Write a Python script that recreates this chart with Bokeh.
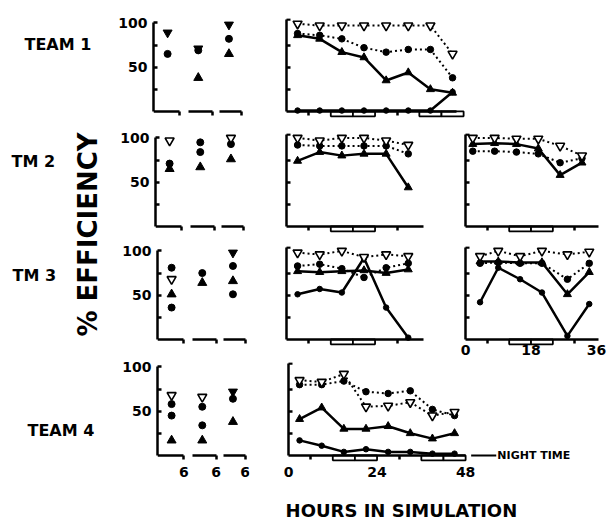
import math
from bokeh.plotting import figure
from bokeh.layouts import row, column
from bokeh.models import Range1d, LinearAxis, FixedTicker, PrintfTickFormatter
from bokeh.core.properties import value
from bokeh.embed import file_html
from bokeh.resources import INLINE

NaN = float("nan")
FONT = "DejaVu Sans"
INK = "black"

# ---------------- data ----------------
sessions = [1, 2, 3]            # three 6-hour sessions (left panels)

t1_left_tri_fill = [89, 71, 98]
t1_left_circ = [65, 69, 82]
t1_left_tri_up = [NaN, 38, 65]

t2_left_tri_open = [97, NaN, 100]
t2_left_circ = [71, 95, 93]
t2_left_circ2 = [NaN, 84, NaN]
t2_left_tri_up = [65, 67, 76]

t3_left_tri_open = [68, NaN, NaN]
t3_left_tri_fill = [NaN, NaN, 98]
t3_left_circ = [81, 75, 83]
t3_left_circ2 = [36, NaN, 51]
t3_left_tri_up = [51, 64, 66]

t4_left_tri_open = [68, 66, NaN]
t4_left_tri_fill = [NaN, NaN, 72]
t4_left_circ = [58, 55, 64]
t4_left_circ2 = [45, 34, NaN]
t4_left_tri_up = [17, 17, 38]

hours_t1 = [3, 9, 15, 21, 27, 33, 39, 45]
t1_a = [99, 97, 97, 97, 97, 97, 97, 65]
t1_b = [88, 86, 82, 72, 67, 70, 70, 38]
t1_c = [86, 82, 67, 61, 35, 44, 25, 21]
t1_d = [1, 1, 1, 1, 1, 1, 1, 22]

hours_t2 = [3, 9, 15, 21, 27, 33]
t2_a = [100, 97, 100, 100, 97, 92]
t2_b = [92, 91, 91, 91, 91, 82]
t2_c = [74, 84, 80, 82, 82, 44]

hours_t2b = [2, 8, 14, 20, 26, 32]
t2b_a = [100, 100, 99, 99, 91, 80]
t2b_b = [85, 85, 84, 82, 72, 77]
t2b_c = [93, 94, 93, 88, 58, 72]

hours_t3 = [3, 9, 15, 21, 27, 33]
t3_a = [98, 96, 100, 93, 96, 94]
t3_b = [83, 85, 80, 70, 81, 86]
t3_c = [77, 76, 77, 78, 75, 79]
t3_d = [51, 57, 53, 92, 36, 2]

hours_t3b = [4, 9, 15, 21, 28, 34]
t3b_a = [94, 100, 94, 100, 96, 99]
t3b_b = [86, 87, 86, 86, 68, 86]
t3b_c = [88, 88, 87, 87, 51, 76]
t3b_d = [42, 81, 68, 53, 4, 40]

hours_t4 = [3, 9, 15, 21, 27, 33, 39, 45]
t4_a = [85, 83, 92, 55, 56, 60, 45, 49]
t4_b = [80, 80, 84, 72, 70, 73, 52, 45]
t4_c = [41, 54, 30, 30, 33, 25, 19, 25]
t4_d = [17, 11, 4, 7, 4, 4, 2, 2]

night_start = [12, 18, 36, 42]
night_end = [18, 24, 42, 48]

y_ticks_left = [25, 50, 75, 100]
y_labels_left = {25: "", 50: "50", 75: "", 100: "100"}
y_ticks_hours = [25, 50, 75, 104]
x_labels_48 = [0, 24, 48]
x_labels_36 = [0, 18, 36]
x_marks = [6, 30]

# ---------------- helpers ----------------
Y_HI = 105
PX_PER_UNIT = 0.885


def make_fig(w, h, xr, bl, br, bt, bb):
    frame_h = h - bt - bb
    y_lo = Y_HI - frame_h / PX_PER_UNIT
    p = figure(width=w, height=h, x_range=Range1d(*xr), y_range=Range1d(y_lo, Y_HI),
               output_backend="svg", toolbar_location=None,
               x_axis_location=None, y_axis_location=None,
               min_border_left=bl, min_border_right=br,
               min_border_top=bt, min_border_bottom=bb)
    p.outline_line_color = None
    for g in p.grid:
        g.visible = False
    return p


def hours_fig(w, h, bt, bb, zero_offset, px_per_hr):
    # frame spans the figure less 2px each side; hour 0 sits zero_offset px from the figure's left
    left = (2 - zero_offset) / px_per_hr
    right = (w - 2 - zero_offset) / px_per_hr
    return make_fig(w, h, (left, right), 2, 2, bt, bb)


def style_labels(ax, size, standoff):
    ax.major_label_text_font = FONT
    ax.major_label_text_font_size = size
    ax.major_label_text_font_style = "bold"
    ax.major_label_text_color = INK
    ax.major_label_standoff = standoff


def no_labels(ax):
    ax.formatter = PrintfTickFormatter(format="")
    ax.major_label_standoff = 0


def y_axis(p, ticks, bounds, labels=None, fixed=False):
    ax = LinearAxis(ticker=FixedTicker(ticks=ticks), bounds=bounds)
    if fixed:
        ax.fixed_location = 0
    ax.axis_line_color = INK
    ax.axis_line_width = 2.5
    ax.major_tick_line_color = INK
    ax.major_tick_line_width = 2.5
    ax.major_tick_in = 4
    ax.major_tick_out = 0
    ax.minor_tick_line_color = None
    if labels:
        ax.major_label_overrides = labels
        style_labels(ax, "14px", 6)
    else:
        no_labels(ax)
    p.add_layout(ax, "left")


def x_line_axis(p, ticks, bounds, label=None, standoff=8):
    # axis line drawn at value 0 with small downward tick marks
    ax = LinearAxis(ticker=FixedTicker(ticks=ticks), bounds=bounds, fixed_location=0)
    ax.axis_line_color = INK
    ax.axis_line_width = 2.5
    ax.major_tick_line_color = INK
    ax.major_tick_line_width = 2.5
    ax.major_tick_in = 0
    ax.major_tick_out = 4
    ax.minor_tick_line_color = None
    if label is None:
        no_labels(ax)
    else:
        ax.formatter = PrintfTickFormatter(format=label)
        style_labels(ax, "14px", standoff)
    p.add_layout(ax, "below")


def x_label_axis(p, ticks, bounds, standoff, size="14px"):
    ax = LinearAxis(ticker=FixedTicker(ticks=ticks), bounds=bounds, fixed_location=0)
    ax.axis_line_color = None
    ax.major_tick_line_color = None
    ax.major_tick_in = 0
    ax.major_tick_out = 0
    ax.minor_tick_line_color = None
    style_labels(ax, size, standoff)
    p.add_layout(ax, "below")


def night(p, n):
    p.quad(left=night_start[:n], right=night_end[:n], bottom=-5.5, top=0,
           fill_color="white", line_color=INK, line_width=1.8)


def series(p, x, y, kind):
    if kind == "A":
        p.line(x, y, line_color=INK, line_width=2, line_dash="2 3")
        p.scatter(x, y, marker="inverted_triangle", size=9, fill_color="white",
                  line_color=INK, line_width=1.6)
    elif kind == "B":
        p.line(x, y, line_color=INK, line_width=2, line_dash="2 3")
        p.scatter(x, y, marker="circle", size=6.5, fill_color=INK, line_color=INK)
    elif kind == "C":
        p.line(x, y, line_color=INK, line_width=2.5)
        p.scatter(x, y, marker="triangle", size=8, fill_color=INK, line_color=INK)
    else:
        p.line(x, y, line_color=INK, line_width=2.5)
        p.scatter(x, y, marker="circle", size=5.5, fill_color=INK, line_color=INK)


SEG_BOUNDS = [(0.54, 1.4), (1.68, 2.45), (2.68, 3.4)]


def left_panel(h, bl, br, bt, bb, tri_open, tri_fill, circ, circ2, tri_up, labels6=False):
    p = make_fig(165, h, (0.54, 3.54), bl, br, bt, bb)
    y_axis(p, y_ticks_left, (0, 100), y_labels_left)
    for b in SEG_BOUNDS:
        x_line_axis(p, [b[1]], b, label="6" if labels6 else None, standoff=8)
    if tri_up is not None:
        p.scatter(sessions, tri_up, marker="triangle", size=9, fill_color=INK, line_color=INK)
    if circ is not None:
        p.scatter(sessions, circ, marker="circle", size=7, fill_color=INK, line_color=INK)
    if circ2 is not None:
        p.scatter(sessions, circ2, marker="circle", size=7, fill_color=INK, line_color=INK)
    if tri_fill is not None:
        p.scatter(sessions, tri_fill, marker="inverted_triangle", size=9, fill_color=INK,
                  line_color=INK)
    if tri_open is not None:
        p.scatter(sessions, tri_open, marker="inverted_triangle", size=9, fill_color="white",
                  line_color=INK, line_width=1.6)
    return p


# ---------------- label column ----------------
lab = figure(width=105, height=524, x_range=Range1d(0, 105), y_range=Range1d(0, 524),
             output_backend="svg", toolbar_location=None,
             x_axis_location=None, y_axis_location=None, min_border=0)
lab.outline_line_color = None
for g in lab.grid:
    g.visible = False
lab.text(x=[24, 11, 12, 27], y=[524 - 44, 524 - 161, 524 - 275, 524 - 430],
         text=["TEAM 1", "TM 2", "TM 3", "TEAM 4"], text_font=value(FONT),
         text_font_style="bold", text_font_size="16px", text_baseline="middle",
         text_color=INK)
lab.text(x=[87], y=[524 - 234], text=["% EFFICIENCY"], angle=math.pi / 2,
         text_font=value(FONT), text_font_style="bold", text_font_size="26px",
         text_align="center", text_baseline="middle", text_color=INK)

MID_PX, RIGHT_PX = 3.69, 3.64

# ---------------- row 1 ----------------
L1 = left_panel(125, 48, 25, 18, 7, None, t1_left_tri_fill, t1_left_circ, None, t1_left_tri_up)
M1 = hours_fig(341, 125, 18, 7, 16, MID_PX)
y_axis(M1, y_ticks_hours, (0, 104), fixed=True)
night(M1, 4)
x_line_axis(M1, x_marks, (0, 46))
series(M1, hours_t1, t1_d, "D")
series(M1, hours_t1, t1_c, "C")
series(M1, hours_t1, t1_b, "B")
series(M1, hours_t1, t1_a, "A")

# ---------------- row 2 ----------------
L2 = left_panel(115, 50, 23, 8, 7, t2_left_tri_open, None, t2_left_circ, t2_left_circ2, t2_left_tri_up)
M2 = hours_fig(173, 115, 8, 7, 16, MID_PX)
y_axis(M2, y_ticks_hours, (0, 104), fixed=True)
night(M2, 2)
x_line_axis(M2, x_marks, (0, 37))
series(M2, hours_t2, t2_c, "C")
series(M2, hours_t2, t2_b, "B")
series(M2, hours_t2, t2_a, "A")
R2 = hours_fig(168, 115, 8, 7, 22, RIGHT_PX)
y_axis(R2, y_ticks_hours, (0, 104), fixed=True)
night(R2, 2)
x_line_axis(R2, x_marks, (0, 36.5))
series(R2, hours_t2b, t2b_c, "C")
series(R2, hours_t2b, t2b_b, "B")
series(R2, hours_t2b, t2b_a, "A")

# ---------------- row 3 ----------------
H3, BT3, BB3 = 118, 6, 0
L3 = left_panel(H3, 52, 21, BT3, BB3, t3_left_tri_open, t3_left_tri_fill, t3_left_circ,
                t3_left_circ2, t3_left_tri_up)
M3 = hours_fig(173, H3, BT3, BB3, 16, MID_PX)
y_axis(M3, y_ticks_hours, (0, 104), fixed=True)
night(M3, 2)
x_line_axis(M3, x_marks, (0, 37))
series(M3, hours_t3, t3_d, "D")
series(M3, hours_t3, t3_c, "C")
series(M3, hours_t3, t3_b, "B")
series(M3, hours_t3, t3_a, "A")
R3 = hours_fig(168, H3, BT3, BB3, 22, RIGHT_PX)
y_axis(R3, y_ticks_hours, (0, 104), fixed=True)
night(R3, 2)
x_line_axis(R3, x_marks, (0, 36.5))
x_label_axis(R3, x_labels_36, (0, 36.5), 6)
series(R3, hours_t3b, t3b_d, "D")
series(R3, hours_t3b, t3b_c, "C")
series(R3, hours_t3b, t3b_b, "B")
series(R3, hours_t3b, t3b_a, "A")

# ---------------- row 4 ----------------
H4, BT4, BB4 = 166, 4, 2
L4 = left_panel(H4, 52, 21, BT4, BB4, t4_left_tri_open, t4_left_tri_fill, t4_left_circ,
                t4_left_circ2, t4_left_tri_up, labels6=True)
M4 = hours_fig(341, H4, BT4, BB4, 18, MID_PX)
y_axis(M4, y_ticks_hours, (0, 104), fixed=True)
night(M4, 4)
x_line_axis(M4, x_marks, (0, 48))
x_label_axis(M4, x_labels_48, (0, 48), 12)
series(M4, hours_t4, t4_d, "D")
series(M4, hours_t4, t4_c, "C")
series(M4, hours_t4, t4_b, "B")
series(M4, hours_t4, t4_a, "A")
M4.segment(x0=[49.5], y0=[0], x1=[56.3], y1=[0], line_color=INK, line_width=2)
M4.text(x=[56.6], y=[0], text=["NIGHT TIME"], text_font=value(FONT), text_font_style="bold",
        text_font_size="11px", text_baseline="middle", text_color=INK)
M4.text(x=[30.6], y=[-62.3], text=["HOURS IN SIMULATION"], text_font=value(FONT),
        text_font_style="bold", text_font_size="18px", text_align="center",
        text_baseline="middle", text_color=INK)

layout = row(lab, column(row(L1, M1), row(L2, M2, R2), row(L3, M3, R3), row(L4, M4)))

with open("out.html", "w") as f:
    f.write(file_html(layout, INLINE))
